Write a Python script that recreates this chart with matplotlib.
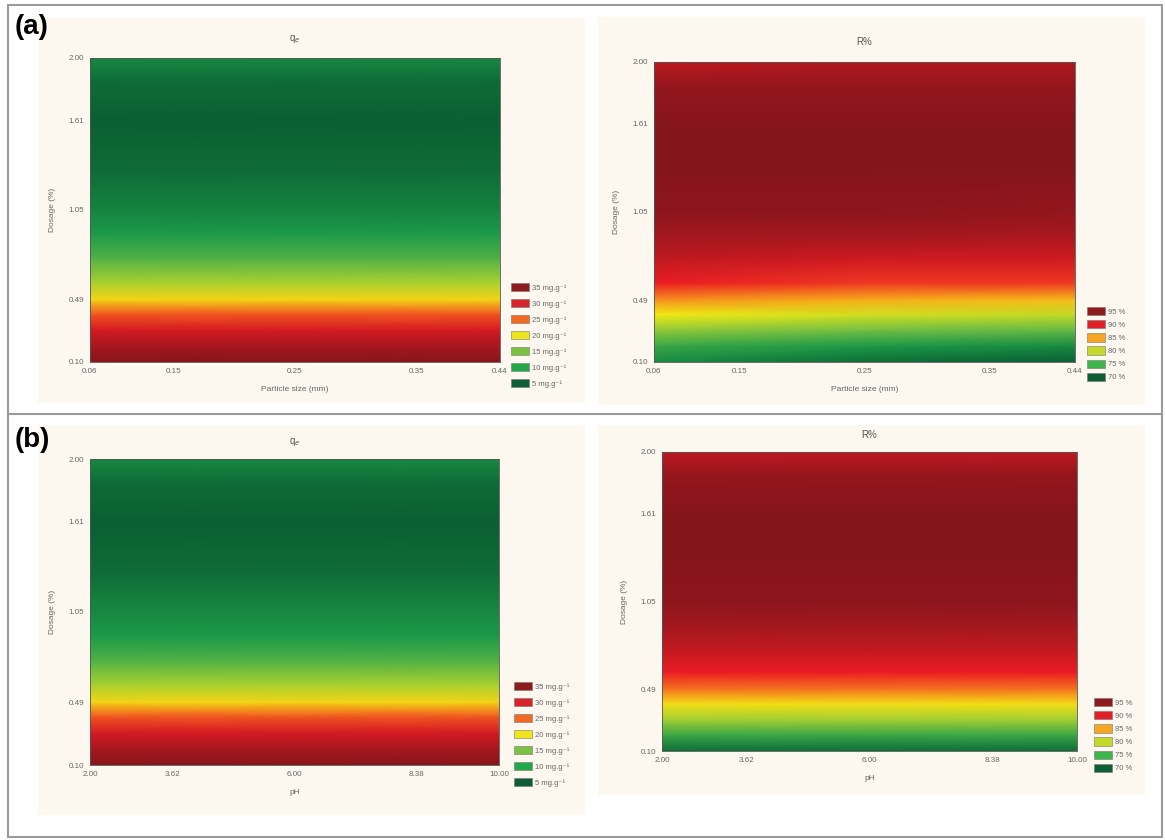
import numpy as np
import matplotlib.pyplot as plt
from matplotlib.colors import LinearSegmentedColormap, Normalize
from matplotlib.patches import Patch, Rectangle

# Data
dosage_rows = [0.10, 0.20, 0.30, 0.40, 0.49, 0.60, 0.75, 0.90, 1.05, 1.30, 1.61, 1.85, 2.00]
coded_cols = [-1.682, 0.0, 1.682]

# qe (mg/g) vs dosage, flat across x
qe_a = [37, 34, 30, 26, 21, 17, 13, 10, 8, 6, 5, 6, 8.5]
qe_b = [37, 34, 30, 26, 21, 17, 13, 10, 8.5, 6, 5, 6, 8.5]

# R% vs dosage, columns = left / middle / right of the x range
r_a_left = [73, 75, 78, 81, 84, 88, 91, 93, 94.5, 95.5, 95.5, 94, 91]
r_a_mid = [71, 74, 77, 80, 83, 87, 90, 93, 94.5, 95.5, 95.5, 94, 92]
r_a_right = [70, 73, 76.5, 79.5, 82.5, 87, 90, 92.5, 94, 95.5, 95.5, 94, 92]
r_b = [71, 75, 78.5, 81.5, 85, 88, 91, 93, 94.5, 95.5, 95, 94, 91]

dosage_ticks = [0.10, 0.49, 1.05, 1.61, 2.00]
size_labels = ['0.06', '0.15', '0.25', '0.35', '0.44']
ph_labels = ['2.00', '3.62', '6.00', '8.38', '10.00']
coded_ticks = [-1.682, -1, 0, 1, 1.682]

qe_levels = ['35 mg.g⁻¹', '30 mg.g⁻¹', '25 mg.g⁻¹', '20 mg.g⁻¹',
             '15 mg.g⁻¹', '10 mg.g⁻¹', '5 mg.g⁻¹']
qe_level_colors = ['#8c1a1e', '#d8232a', '#f26a22', '#eee51a', '#7cc242', '#22a84a', '#0d5e34']
r_levels = ['95 %', '90 %', '85 %', '80 %', '75 %', '70 %']
r_level_colors = ['#8c1a1e', '#e2202a', '#f5a623', '#c6d92a', '#3db54a', '#0d5e34']

# continuous colormaps
qe_cmap = LinearSegmentedColormap.from_list('qe', [
    (0.0, '#0b5f33'), (5 / 32, '#1c9a48'), (10 / 32, '#72be44'), (15 / 32, '#f2ea14'),
    (19 / 32, '#f7941d'), (23 / 32, '#ec1c24'), (1.0, '#86151b')])
qe_norm = Normalize(5, 37)
r_cmap = LinearSegmentedColormap.from_list('r', [
    (0.0, '#0b5f33'), (4 / 25, '#1c9a48'), (7 / 25, '#72be44'), (11 / 25, '#f2ea14'),
    (14 / 25, '#f7941d'), (18 / 25, '#ec1c24'), (1.0, '#86151b')])
r_norm = Normalize(70, 95)

W, H = 1165, 840
plt.rcParams['font.family'] = ['Liberation Sans', 'DejaVu Sans']
fig = plt.figure(figsize=(W / 100, H / 100), dpi=100)
fig.patch.set_facecolor('white')


def px(x0, y0, x1, y1):
    return [x0 / W, 1 - y1 / H, (x1 - x0) / W, (y1 - y0) / H]


# cream backgrounds and frame
for x0, y0, x1, y1 in [(38, 18, 585, 403), (598, 17, 1145, 405),
                       (38, 425, 585, 815), (598, 425, 1145, 795)]:
    fig.patches.append(Rectangle((x0 / W, 1 - y1 / H), (x1 - x0) / W, (y1 - y0) / H,
                                 transform=fig.transFigure, facecolor='#fcf8ef',
                                 edgecolor='none', zorder=-2))
fig.patches.append(Rectangle((8 / W, 1 - 837 / H), 1154 / W, 832 / H, transform=fig.transFigure,
                             facecolor='none', edgecolor='#9a9a9a', lw=1.5, zorder=5))
fig.lines.append(plt.Line2D([8 / W, 1162 / W], [1 - 414 / H] * 2, transform=fig.transFigure,
                            color='#9a9a9a', lw=1.5, zorder=5))

fig.text(15 / W, 1 - 27 / H, '(a)', fontsize=20, fontweight='bold', va='center')
fig.text(15 / W, 1 - 440 / H, '(b)', fontsize=20, fontweight='bold', va='center')


def panel(rect, Z, cmap, norm, title, xlabels, xlabel, title_pad):
    ax = fig.add_axes(rect)
    ax.patch.set_alpha(0)
    X, Y = np.meshgrid(coded_cols, dosage_rows)
    ax.pcolormesh(X, Y, np.asarray(Z), cmap=cmap, norm=norm, shading='gouraud')
    ax.set_xlim(-1.682, 1.682)
    ax.set_ylim(0.10, 2.00)
    ax.set_xticks(coded_ticks)
    ax.set_xticklabels(xlabels)
    ax.set_yticks(dosage_ticks)
    ax.set_yticklabels([f'{v:.2f}' for v in dosage_ticks])
    ax.tick_params(length=0, labelsize=5.8, labelcolor='#666666', pad=4)
    ax.set_xlabel(xlabel, fontsize=6, color='#666666', labelpad=8)
    ax.set_ylabel('Dosage (%)', fontsize=6, color='#666666', labelpad=9)
    ax.set_title(title, fontsize=7, color='#555555', pad=title_pad)
    for s in ax.spines.values():
        s.set_color('#555555')
        s.set_linewidth(0.6)
    return ax


def legend(colors, labels, x, y, spacing):
    handles = [Patch(facecolor=c, edgecolor='#777777', lw=0.4) for c in colors]
    fig.legend(handles, labels, loc='upper left', bbox_to_anchor=(x / W, 1 - y / H),
               fontsize=5.5, frameon=False, handlelength=2.3, handleheight=1.3,
               labelspacing=spacing, handletextpad=0.5, borderpad=0, borderaxespad=0,
               labelcolor='#666666')


qe_grid_a = np.column_stack([qe_a] * 3)
qe_grid_b = np.column_stack([qe_b] * 3)
r_grid_a = np.column_stack([r_a_left, r_a_mid, r_a_right])
r_grid_b = np.column_stack([r_b] * 3)

panel(px(90, 58, 500, 362), qe_grid_a, qe_cmap, qe_norm, 'q$_e$', size_labels,
      'Particle size (mm)', 12)
panel(px(654, 62, 1075, 362), r_grid_a, r_cmap, r_norm, 'R%', size_labels,
      'Particle size (mm)', 12)
panel(px(90, 459, 499, 765), qe_grid_b, qe_cmap, qe_norm, 'q$_e$', ph_labels, 'pH', 11)
panel(px(662, 452, 1077, 751), r_grid_b, r_cmap, r_norm, 'R%', ph_labels, 'pH', 10)

legend(qe_level_colors, qe_levels, 511, 283, 0.95)
legend(r_level_colors, r_levels, 1087, 307, 0.58)
legend(qe_level_colors, qe_levels, 514, 682, 0.95)
legend(r_level_colors, r_levels, 1094, 698, 0.58)

fig.savefig('out.png', dpi=100)
